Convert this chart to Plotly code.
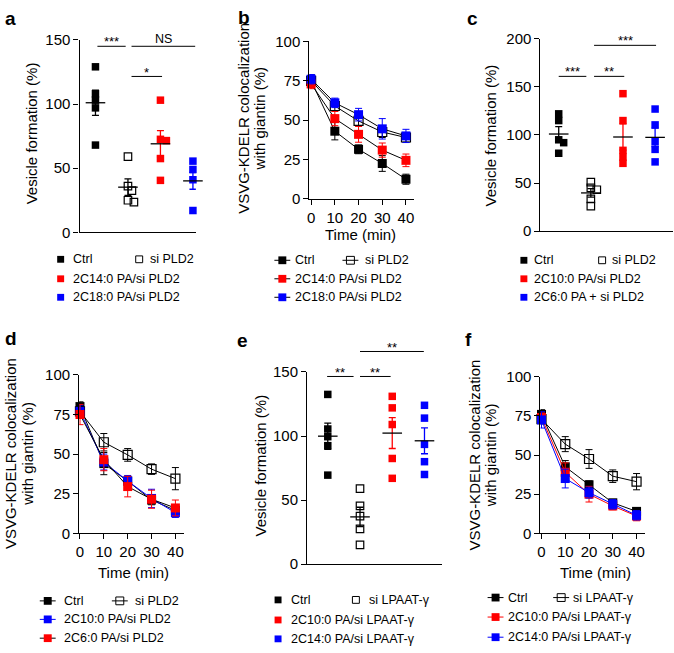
import numpy as np
import plotly.graph_objects as go

W, H = 674, 653
BLACK, RED, BLUE = '#000000', '#FF0000', '#0000FF'
FONT = 'Liberation Sans, Arial, Helvetica, sans-serif'

# ---------------- data ----------------
time_min = [0, 10, 20, 30, 40]

# panel a (vesicle formation, %)
a_labels = ['Ctrl', 'si PLD2', '2C14:0 PA/si PLD2', '2C18:0 PA/si PLD2']
a_ctrl = [129, 108, 103, 97, 68]
a_si = [59, 36, 32.5, 25, 23.5]
a_c14 = [103, 72.5, 71.5, 57.5, 40.5]
a_c18 = [55.5, 49, 41, 38, 17]

# panel b (colocalization time course)
b_labels = ['Ctrl', 'si PLD2', '2C14:0 PA/si PLD2', '2C18:0 PA/si PLD2']
b_ctrl = [75, 43, 31.5, 22.5, 12.5]
b_ctrl_err = [4, 5.5, 2.8, 5, 3.2]
b_si = [75, 59, 49.5, 42.5, 39]
b_si_err = [3, 3, 3, 3.5, 3]
b_c14 = [73, 51, 41, 31, 24.5]
b_c14_err = [3, 4.5, 5, 4.5, 4]
b_c18 = [76, 61, 53.5, 44.5, 40]
b_c18_err = [3, 3, 4, 6.5, 4.2]

# panel c
c_labels = ['Ctrl', 'si PLD2', '2C10:0 PA/si PLD2', '2C6:0 PA + si PLD2']
c_ctrl = [122, 115, 95, 92, 81]
c_si = [51, 45, 43, 33.5, 26]
c_c10 = [143, 115, 84, 77, 70.5]
c_c6 = [127, 110.5, 93, 85, 72]

# panel d
d_labels = ['Ctrl', 'si PLD2', '2C10:0 PA/si PLD2', '2C6:0 PA/si PLD2']
d_ctrl = [80, 44, 33, 21, 14.5]
d_ctrl_err = [3, 7, 3, 3, 2.5]
d_si = [77, 57.5, 49.5, 40.5, 34.5]
d_si_err = [4, 5.5, 4, 3.3, 7]
d_c10 = [77, 45, 33, 22, 13]
d_c10_err = [4, 5, 3.5, 5.8, 3]
d_c6 = [75, 46.5, 29.5, 21.5, 16]
d_c6_err = [6.4, 7, 6.5, 5.7, 5]

# panel e
e_labels = ['Ctrl', 'si LPAAT-γ', '2C10:0 PA/si LPAAT-γ', '2C14:0 PA/si LPAAT-γ']
e_ctrl = [132.5, 105.5, 99.5, 92.5, 69.5]
e_si = [59, 45.5, 37.5, 27.5, 15]
e_c10 = [131, 122, 109, 82.5, 67]
e_c14 = [124, 114, 93.5, 80, 70]

# panel f
f_labels = ['Ctrl', 'si LPAAT-γ', '2C10:0 PA/si LPAAT-γ', '2C14:0 PA/si LPAAT-γ']
f_ctrl = [76, 42.5, 31, 19.5, 14]
f_ctrl_err = [3, 4, 2.5, 2, 1.5]
f_si = [73, 57, 47.5, 36.5, 33]
f_si_err = [3, 4.8, 6, 4, 5.2]
f_c10 = [74, 39, 25, 17.5, 11]
f_c10_err = [3, 6, 5, 2.5, 3]
f_c14 = [72.5, 35, 26, 18.5, 11.5]
f_c14_err = [5.2, 6, 3.5, 3, 3]

# significance brackets: (from group, to group, height, label)
a_sig = [(1.06, 1.93, 145, '***'), (2.11, 4.07, 145, 'NS'), (2.11, 3.05, 121.5, '*')]
c_sig = [(1.0, 1.86, 161, '***'), (2.1, 3.04, 161, '**'), (2.1, 4.03, 193.3, '***')]
e_sig = [(0.98, 1.8, 146.5, '**'), (2.0, 2.95, 146.5, '**'), (2.0, 3.98, 166, '**')]

# ---------------- layout geometry (pixels) ----------------
P = {
    'a': dict(n=1, box=(77, 194, 31.7, 229.3), xr=[0.51, 4.09], yr=[0, 150], yt=[0, 50, 100, 150]),
    'b': dict(n=2, box=(308.3, 413, 33.3, 195), xr=[-0.7, 43.2], yr=[0, 100], yt=[0, 25, 50, 75, 100]),
    'c': dict(n=3, box=(540.7, 674, 30.7, 228), xr=[0.433, 4.557], yr=[0, 200], yt=[0, 50, 100, 150, 200]),
    'd': dict(n=4, box=(76.7, 181.6, 375.7, 538.3), xr=[-0.3, 43.4], yr=[0, 100], yt=[0, 25, 50, 75, 100]),
    'e': dict(n=5, box=(306, 441.7, 372.7, 570), xr=[0.361, 4.546], yr=[0, 150], yt=[0, 50, 100, 150]),
    'f': dict(n=6, box=(540.7, 645.7, 377.7, 538.3), xr=[-0.42, 43.5], yr=[0, 100], yt=[0, 25, 50, 75, 100]),
}


def fx(px):
    return px / W


def fy(py):
    return 1 - py / H


def d2px(p, x, y):
    x0, x1, yt, yb = P[p]['box']
    xr, yr = P[p]['xr'], P[p]['yr']
    return (x0 + (x - xr[0]) / (xr[1] - xr[0]) * (x1 - x0),
            yb - (y - yr[0]) / (yr[1] - yr[0]) * (yb - yt))


fig = go.Figure()
shapes, annos = [], []


def ax_names(p):
    n = P[p]['n']
    return ('x' if n == 1 else f'x{n}'), ('y' if n == 1 else f'y{n}')


def swarm(vals, ppu, size=5.6, step=1.0):
    placed, offs = [], []
    for v in vals:
        y = v * ppu
        k, found = 0, None
        while found is None:
            cands = [0.0] if k == 0 else [k * step, -k * step]
            for dx in cands:
                if all((dx - qx) ** 2 + (y - qy) ** 2 >= size ** 2 for qx, qy in placed):
                    found = dx
                    break
            k += 1
        placed.append((found, y))
        offs.append(found)
    return offs


def dot_panel(p, groups):
    xa, ya = ax_names(p)
    x0, x1, yt, yb = P[p]['box']
    xr, yr = P[p]['xr'], P[p]['yr']
    ppc = (x1 - x0) / (xr[1] - xr[0])
    ppu = (yb - yt) / (yr[1] - yr[0])
    for i, (vals, color, is_open) in enumerate(groups, start=1):
        offs = swarm(vals, ppu)
        xs = [i + o / ppc for o in offs]
        fig.add_trace(go.Scatter(
            x=xs, y=vals, mode='markers', xaxis=xa, yaxis=ya, cliponaxis=False,
            showlegend=False, hoverinfo='y',
            marker=dict(symbol='square-open' if is_open else 'square', size=7.5,
                        color=color, line=dict(width=1.2 if is_open else 0, color=color))))
        m = float(np.mean(vals))
        s = float(np.std(vals, ddof=1) / np.sqrt(len(vals)))
        fig.add_trace(go.Scatter(
            x=[i], y=[m], mode='markers', xaxis=xa, yaxis=ya, cliponaxis=False,
            showlegend=False, hoverinfo='y',
            marker=dict(symbol='line-ew', size=14, color=BLACK, line=dict(width=1.3, color=BLACK)),
            error_y=dict(type='data', array=[s], color=color, thickness=1.3, width=3.5)))


def line_panel(p, series):
    xa, ya = ax_names(p)
    for vals, err, mcolor, lcolor, is_open in series:
        fig.add_trace(go.Scatter(
            x=time_min, y=vals, mode='lines+markers', xaxis=xa, yaxis=ya, cliponaxis=False,
            showlegend=False,
            line=dict(color=lcolor, width=1),
            marker=dict(symbol='square-open' if is_open else 'square', size=9, color=mcolor,
                        line=dict(width=1.2 if is_open else 0, color=mcolor)),
            error_y=dict(type='data', array=err, color=mcolor, thickness=1, width=3.5)))


dot_panel('a', [(a_ctrl, BLACK, False), (a_si, BLACK, True), (a_c14, RED, False), (a_c18, BLUE, False)])
line_panel('b', [(b_ctrl, b_ctrl_err, BLACK, BLACK, False), (b_si, b_si_err, BLACK, BLACK, True),
                 (b_c14, b_c14_err, RED, BLACK, False), (b_c18, b_c18_err, BLUE, BLACK, False)])
dot_panel('c', [(c_ctrl, BLACK, False), (c_si, BLACK, True), (c_c10, RED, False), (c_c6, BLUE, False)])
line_panel('d', [(d_ctrl, d_ctrl_err, BLACK, BLACK, False), (d_si, d_si_err, BLACK, BLACK, True),
                 (d_c10, d_c10_err, BLUE, BLUE, False), (d_c6, d_c6_err, RED, BLACK, False)])
dot_panel('e', [(e_ctrl, BLACK, False), (e_si, BLACK, True), (e_c10, RED, False), (e_c14, BLUE, False)])
line_panel('f', [(f_ctrl, f_ctrl_err, BLACK, BLACK, False), (f_si, f_si_err, BLACK, BLACK, True),
                 (f_c10, f_c10_err, RED, RED, False), (f_c14, f_c14_err, BLUE, BLUE, False)])

# ---------------- axes ----------------
layout_axes = {}
for p, cfg in P.items():
    n = cfg['n']
    x0, x1, yt, yb = cfg['box']
    xa, ya = ax_names(p)
    xkey = 'xaxis' if n == 1 else f'xaxis{n}'
    ykey = 'yaxis' if n == 1 else f'yaxis{n}'
    is_time = p in ('b', 'd', 'f')
    common = dict(showline=True, linecolor=BLACK, linewidth=1.3, showgrid=False, zeroline=False,
                  tickcolor=BLACK, tickwidth=1.3, ticklen=5,
                  tickfont=dict(family=FONT, size=15, color=BLACK), fixedrange=True)
    layout_axes[xkey] = dict(common, domain=[fx(x0), fx(x1)], range=cfg['xr'], anchor=ya,
                             ticks='outside' if is_time else '', showticklabels=is_time,
                             tickmode='array', tickvals=time_min if is_time else [])
    layout_axes[ykey] = dict(common, domain=[fy(yb), fy(yt)], range=cfg['yr'], anchor=xa,
                             ticks='outside', tickmode='array', tickvals=cfg['yt'])

# ---------------- significance brackets ----------------
for p, sigs in (('a', a_sig), ('c', c_sig), ('e', e_sig)):
    for g0, g1, h, lab in sigs:
        px0, py = d2px(p, g0, h)
        px1, _ = d2px(p, g1, h)
        shapes.append(dict(type='line', xref='paper', yref='paper', x0=fx(px0), x1=fx(px1),
                           y0=fy(py), y1=fy(py), line=dict(color=BLACK, width=1)))
        is_star = '*' in lab
        annos.append(dict(xref='paper', yref='paper', x=fx((px0 + px1) / 2),
                          y=fy(py - (4.5 if is_star else 7)), text=lab, showarrow=False,
                          xanchor='center', yanchor='middle',
                          font=dict(family=FONT, size=13 if is_star else 12.5, color=BLACK)))

# ---------------- axis titles ----------------
def add_text(x, y, text, size=15, angle=0, anchor='center', bold=False):
    annos.append(dict(xref='paper', yref='paper', x=fx(x), y=fy(y), text=f'<b>{text}</b>' if bold else text,
                      showarrow=False, textangle=angle, xanchor=anchor, yanchor='middle',
                      font=dict(family=FONT, size=size, color=BLACK)))


add_text(28.3, 127.5, 'Vesicle formation (%)', angle=-90)
add_text(490.7, 130, 'Vesicle formation (%)', angle=-90)
add_text(259.3, 469, 'Vesicle formation (%)', angle=-90)
for cx, cy in ((241.7, 112.5), (8.3, 456.7), (474, 458.3)):
    add_text(cx, cy, 'VSVG-KDELR colocalization', angle=-90)
    add_text(cx + 16.7, cy, 'with giantin (%)', angle=-90)
add_text(360, 231.7, 'Time (min)')
add_text(131, 579, 'Time (min)')
add_text(595.7, 578.3, 'Time (min)')

# panel letters
for lab, x, y in (('a', 0, 10), ('b', 234, 9), ('c', 465, 10), ('d', 0, 338), ('e', 233, 340), ('f', 463, 339)):
    add_text(x, y, lab, size=19, anchor='left', bold=True)

# ---------------- legends (drawn keys) ----------------
def key_square(cx, cy, color, is_open, s=7):
    shapes.append(dict(type='rect', xref='paper', yref='paper',
                       x0=fx(cx - s / 2), x1=fx(cx + s / 2), y0=fy(cy + s / 2), y1=fy(cy - s / 2),
                       fillcolor='white' if is_open else color,
                       line=dict(color=color, width=1 if is_open else 0)))


def key_line(cx, cy, color, lcolor, is_open, half=8, s=8):
    shapes.append(dict(type='line', xref='paper', yref='paper', x0=fx(cx - half), x1=fx(cx + half),
                       y0=fy(cy), y1=fy(cy), line=dict(color=lcolor, width=1)))
    if is_open:
        shapes.append(dict(type='rect', xref='paper', yref='paper',
                           x0=fx(cx - s / 2), x1=fx(cx + s / 2), y0=fy(cy + s / 2), y1=fy(cy - s / 2),
                           fillcolor='rgba(0,0,0,0)', line=dict(color=color, width=1)))
    else:
        key_square(cx, cy, color, False, s)


def legend(labels, styles, rows, col1, col2, kind, lcolors=None):
    # entries: 0 -> row1 col1, 1 -> row1 col2, 2 -> row2 col1, 3 -> row3 col1
    pos = [(col1, rows[0]), (col2, rows[0]), (col1, rows[1]), (col1, rows[2])]
    for i, (lab, (color, is_open)) in enumerate(zip(labels, styles)):
        (kx, tx), ry = pos[i]
        if kind == 'dot':
            key_square(kx, ry, color, is_open)
        else:
            key_line(kx, ry, color, lcolors[i], is_open)
        annos.append(dict(xref='paper', yref='paper', x=fx(tx - 1), y=fy(ry), text=lab, showarrow=False,
                          xanchor='left', yanchor='middle', font=dict(family=FONT, size=12.5, color=BLACK)))


sty = [(BLACK, False), (BLACK, True), (RED, False), (BLUE, False)]
legend(a_labels, sty, (257, 277, 296), (58, 69), (137, 147), 'dot')
legend(b_labels, sty, (258, 277, 296), (281, 293), (349.5, 363), 'line', [BLACK] * 4)
legend(c_labels, sty, (258, 277, 296), (524, 533), (602.7, 612), 'dot')
legend(d_labels, [(BLACK, False), (BLACK, True), (BLUE, False), (RED, False)], (607.7, 626.7, 646),
       (45, 60), (117.5, 131.7), 'line', [BLACK, BLACK, BLUE, BLACK])
legend(e_labels, sty, (606.7, 627.3, 646.7), (276.7, 288.3), (355, 366.7), 'dot')
legend(f_labels, sty, (604.3, 624.3, 645), (495.5, 507.3), (561.5, 572), 'line', [BLACK, BLACK, RED, BLUE])

fig.update_layout(
    width=W, height=H, autosize=False, margin=dict(l=0, r=0, t=0, b=0, pad=0),
    paper_bgcolor='white', plot_bgcolor='white', showlegend=False,
    font=dict(family=FONT, color=BLACK), shapes=shapes, annotations=annos, **layout_axes)

fig.write_html('out.html', config=dict(displayModeBar=False),
               post_script="document.body.style.margin='0';document.body.style.padding='0';")
